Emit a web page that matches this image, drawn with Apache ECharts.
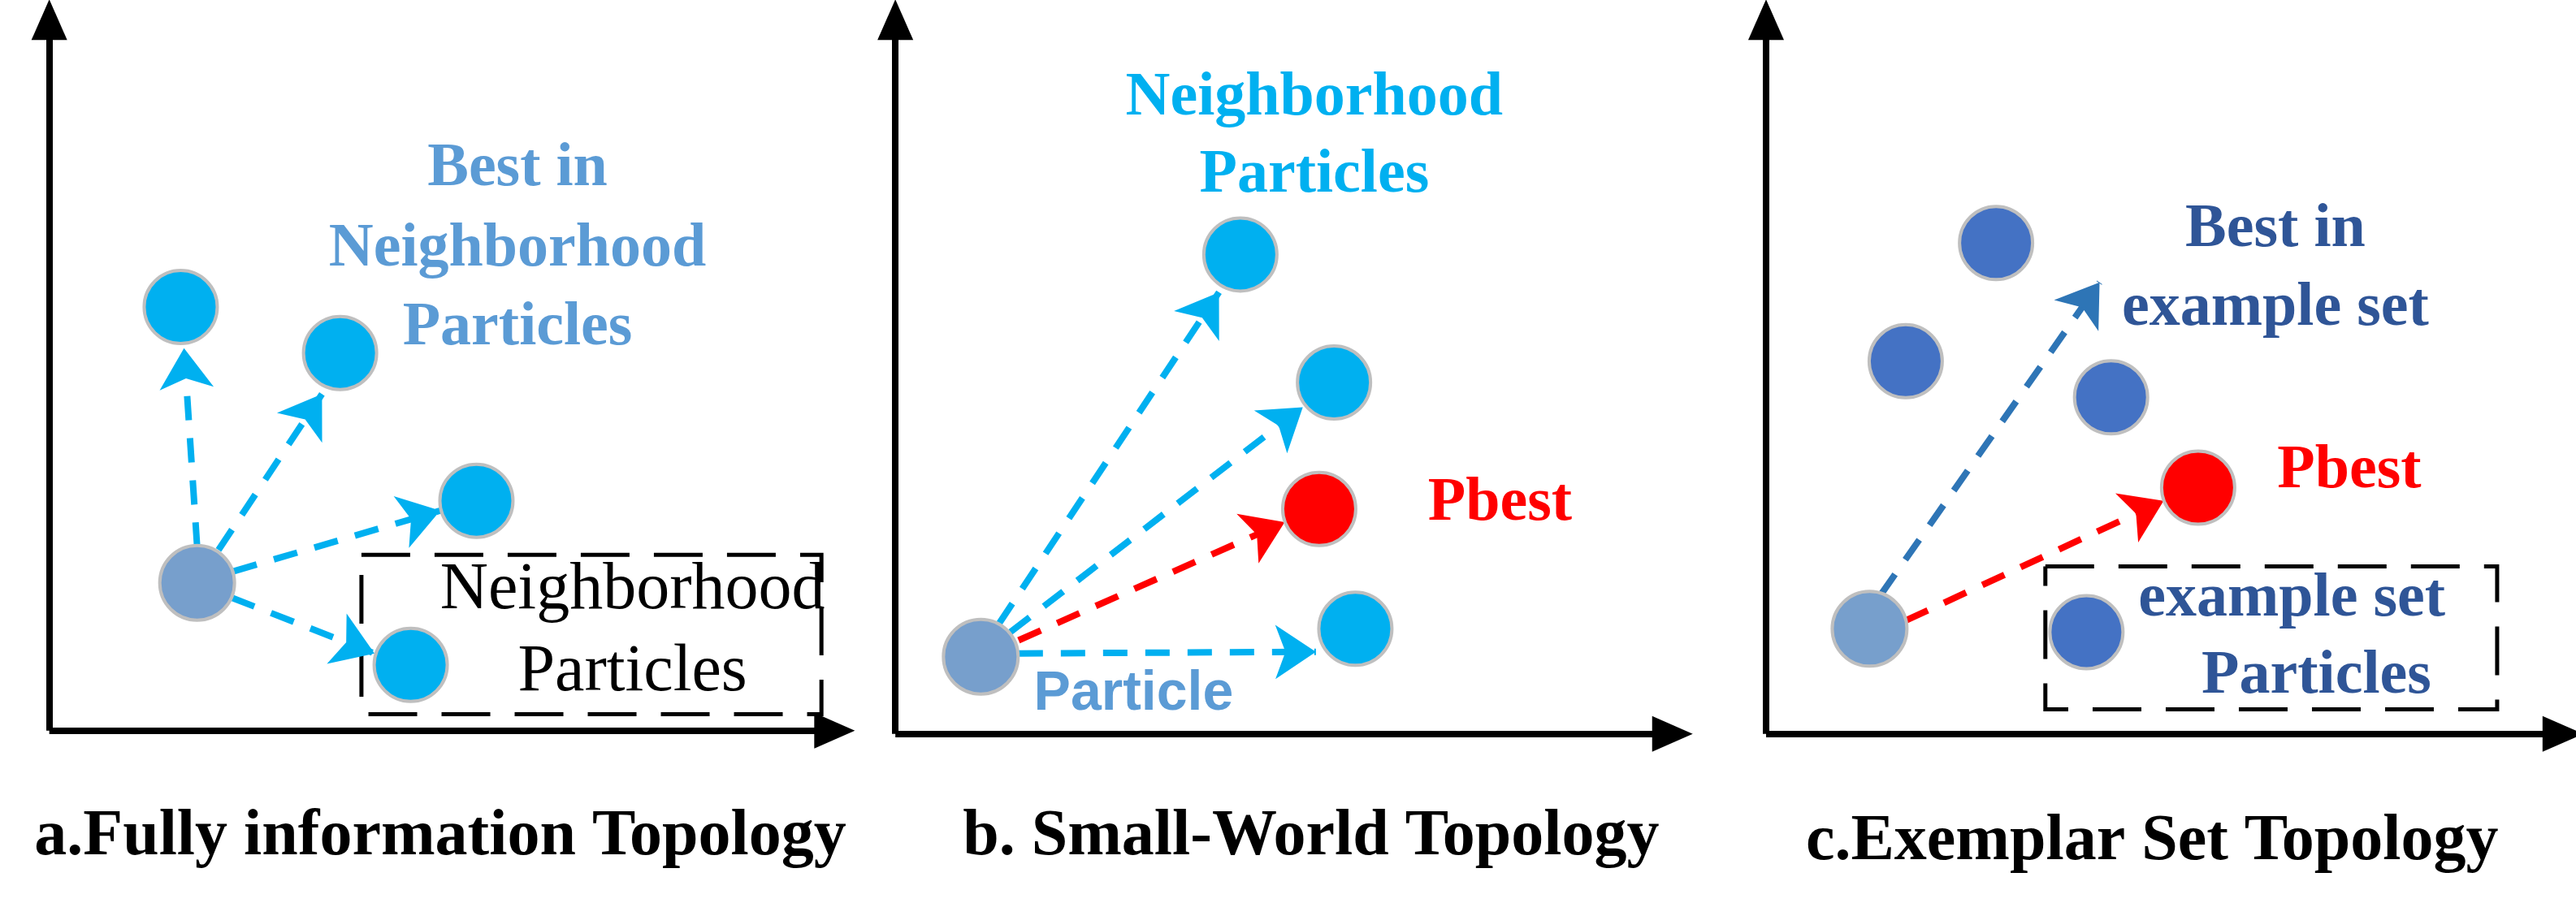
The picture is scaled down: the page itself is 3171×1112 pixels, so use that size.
<!DOCTYPE html>
<html><head><meta charset="utf-8">
<script src="https://cdn.jsdelivr.net/npm/echarts@6/dist/echarts.min.js"></script>
<style>html,body{margin:0;padding:0;background:#fff}#c{width:3171px;height:1112px}</style>
</head><body><div id="c"></div>
<script>
// coordinates in a 1568 x 550 diagram space
const axesLines = [
  [[30,445],[30,12]], [[30,445],[508,445]],
  [[545,447],[545,12]], [[545,447],[1018,447]],
  [[1075,447],[1075,12]], [[1075,447],[1560,447]]
];
const lightNodes = [[110,187],[207,215],[290,305],[250,405],[755,155],[812,233],[825,383]];
const darkNodes = [[1215,148],[1160,220],[1285,242],[1270,385]];
const redNodes = [[803,310],[1338,297]];
const particleNodes = [[120,355],[597,400],[1138,383]];
const lightArrows = [
  [[120,333],[112,212]], [[133,335],[196,240]], [[142,348],[268,311]], [[141,364],[228,398]],
  [[608,380],[742,178]], [[615,385],[793,248]], [[620,398],[801,397]]
];
const redArrows = [[[620,390],[782,318]], [[1160,378],[1317,305]]];
const blueArrows = [[[1145,362],[1278,172]]];
const boxes = [
  [[220,338],[500,338],[500,435],[220,435],[220,338]],
  [[1245,345],[1520,345],[1520,432],[1245,432],[1245,345]]
];
const texts = [
  {p:[315,103], t:'Best in', c:'#5b9bd5', w:'bold', s:76, f:'Liberation Serif'},
  {p:[315,152], t:'Neighborhood', c:'#5b9bd5', w:'bold', s:76, f:'Liberation Serif'},
  {p:[315,200], t:'Particles', c:'#5b9bd5', w:'bold', s:76, f:'Liberation Serif'},
  {p:[385,360], t:'Neighborhood', c:'#000', w:'normal', s:82, f:'Liberation Serif'},
  {p:[385,410], t:'Particles', c:'#000', w:'normal', s:82, f:'Liberation Serif'},
  {p:[800,60], t:'Neighborhood', c:'#00b0f0', w:'bold', s:76, f:'Liberation Serif'},
  {p:[800,107], t:'Particles', c:'#00b0f0', w:'bold', s:76, f:'Liberation Serif'},
  {p:[913,307], t:'Pbest', c:'#ff0000', w:'bold', s:76, f:'Liberation Serif'},
  {p:[690,423], t:'Particle', c:'#5b9bd5', w:'bold', s:68, f:'Liberation Sans'},
  {p:[1385,140], t:'Best in', c:'#2f5597', w:'bold', s:76, f:'Liberation Serif'},
  {p:[1385,188], t:'example set', c:'#2f5597', w:'bold', s:76, f:'Liberation Serif'},
  {p:[1430,287], t:'Pbest', c:'#ff0000', w:'bold', s:76, f:'Liberation Serif'},
  {p:[1395,365], t:'example set', c:'#2f5597', w:'bold', s:76, f:'Liberation Serif'},
  {p:[1410,412], t:'Particles', c:'#2f5597', w:'bold', s:76, f:'Liberation Serif'},
  {p:[268,510], t:'a.Fully information Topology', c:'#000', w:'bold', s:80, f:'Liberation Serif'},
  {p:[798,510], t:'b. Small-World Topology', c:'#000', w:'bold', s:80, f:'Liberation Serif'},
  {p:[1310,513], t:'c.Exemplar Set Topology', c:'#000', w:'bold', s:80, f:'Liberation Serif'}
];
const nodeSeries = (data, color) => ({
  type:'scatter', data, symbolSize:90, z:5,
  itemStyle:{color, borderColor:'#bfbfbf', borderWidth:4, opacity:1}
});
const arrowSeries = (data, color) => ({
  type:'lines', coordinateSystem:'cartesian2d', z:3,
  data:data.map(c=>({coords:c})), symbol:['none','arrow'], symbolSize:[0,50],
  lineStyle:{color, width:8, type:[30,22], opacity:1}
});
const chart = echarts.init(document.getElementById('c'));
chart.setOption({
  animation:false,
  grid:{left:0,right:0,top:0,bottom:0},
  xAxis:{type:'value',min:0,max:1568,show:false},
  yAxis:{type:'value',min:0,max:550,inverse:true,show:false},
  series:[
    {type:'lines', coordinateSystem:'cartesian2d', data:axesLines.map(c=>({coords:c})),
     symbol:['none','triangle'], symbolSize:[0,[44,50]], lineStyle:{color:'#000',width:8,opacity:1}},
    {type:'lines', coordinateSystem:'cartesian2d', polyline:true, z:2,
     data:boxes.map(c=>({coords:c})), symbol:'none',
     lineStyle:{color:'#000',width:5,type:[60,30],opacity:1}},
    arrowSeries(lightArrows,'#00b0f0'),
    arrowSeries(redArrows,'#ff0000'),
    arrowSeries(blueArrows,'#2e75b6'),
    nodeSeries(lightNodes,'#00b0f0'),
    nodeSeries(darkNodes,'#4472c4'),
    nodeSeries(redNodes,'#ff0000'),
    {type:'scatter', data:particleNodes, symbolSize:92, z:5,
     itemStyle:{color:'#779fcc', borderColor:'#bfbfbf', borderWidth:4, opacity:1}},
    {type:'scatter', symbolSize:0, z:6, itemStyle:{opacity:1},
     data:texts.map(d=>({value:d.p, label:{show:true, position:'inside', formatter:d.t,
       color:d.c, fontWeight:d.w, fontSize:d.s, fontFamily:d.f, textBorderWidth:0, opacity:1}}))}
  ]
});
</script></body></html>
